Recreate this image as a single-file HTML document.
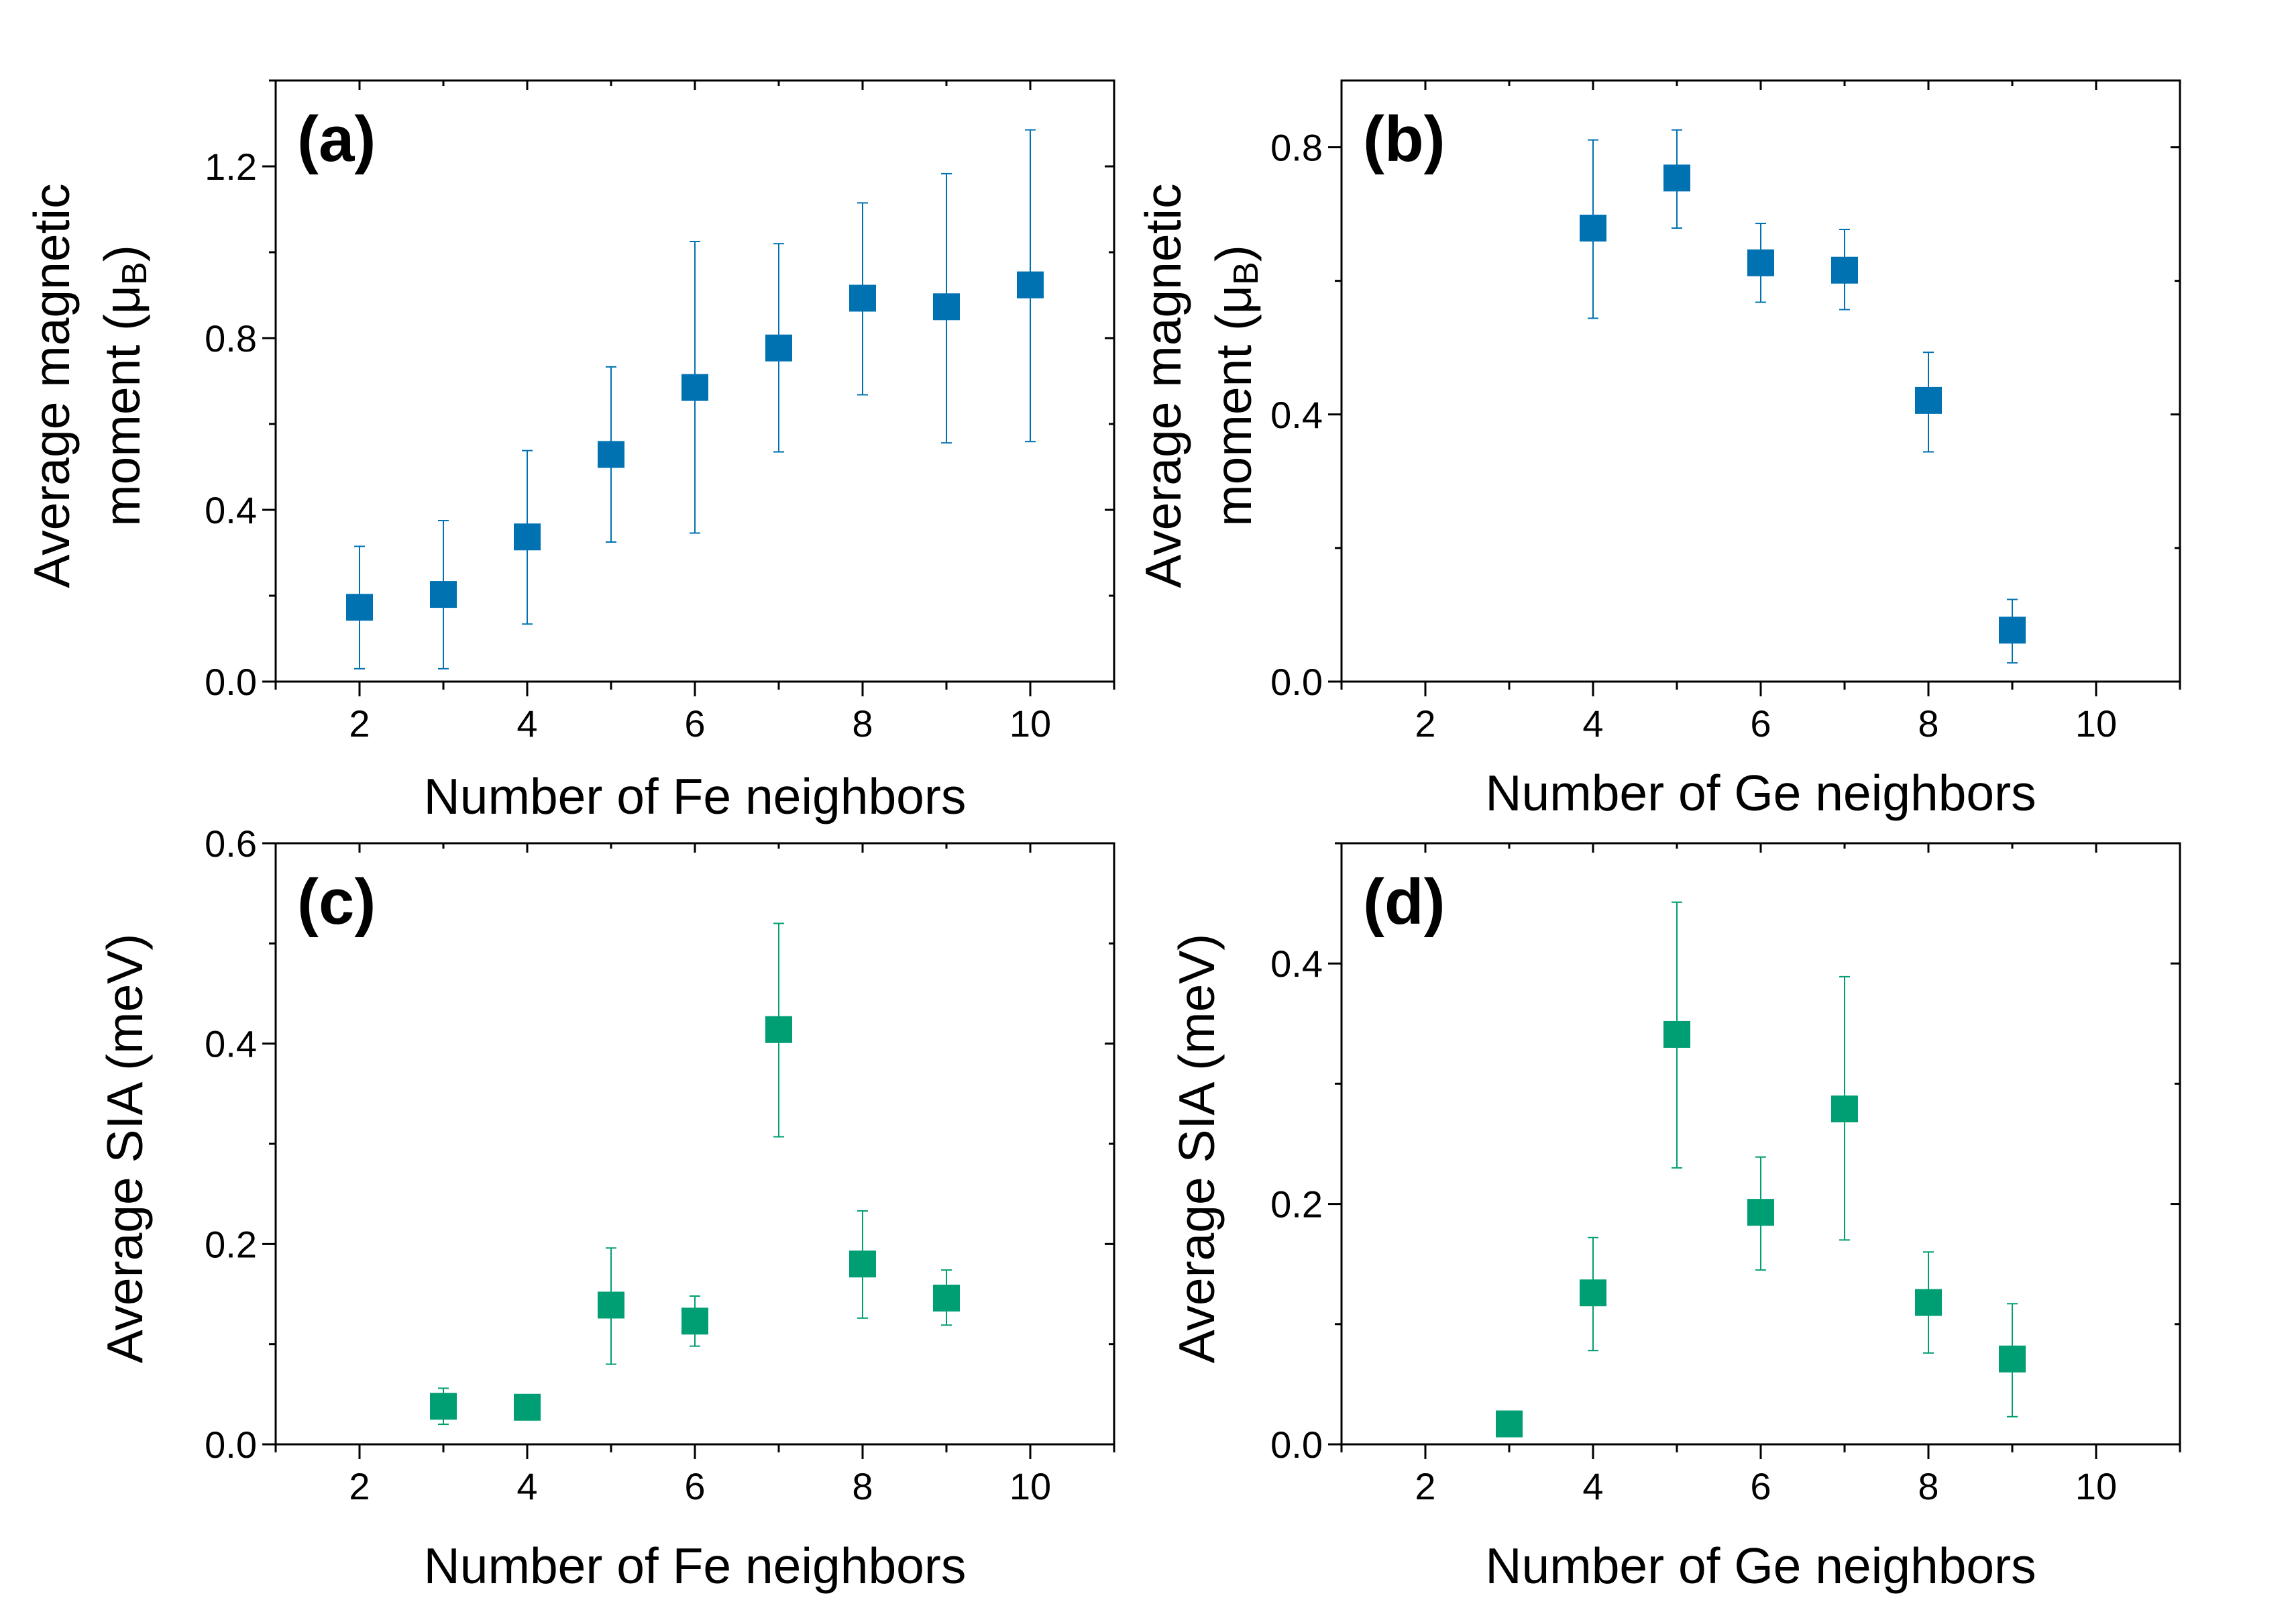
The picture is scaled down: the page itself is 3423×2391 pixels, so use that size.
<!DOCTYPE html>
<html><head><meta charset="utf-8"><style>
html,body{margin:0;padding:0;background:#fff;}
svg{display:block;font-family:"Liberation Sans",Arial,sans-serif;}
</style></head><body>
<svg id="fig" width="3423" height="2391" viewBox="0 0 3423 2391" xmlns="http://www.w3.org/2000/svg">
<rect width="3423" height="2391" fill="#fff"/>
</svg>
<script>
const xCats = [2,3,4,5,6,7,8,9,10];
const aX = [2,3,4,5,6,7,8,9,10];
const aVal = [0.173,0.203,0.337,0.529,0.685,0.777,0.893,0.873,0.924];
const aHi = [0.315,0.375,0.538,0.733,1.025,1.02,1.115,1.183,1.285];
const aLo = [0.03,0.03,0.134,0.325,0.346,0.535,0.668,0.556,0.559];
const bX = [4,5,6,7,8,9];
const bVal = [0.679,0.754,0.627,0.616,0.421,0.077];
const bHi = [0.811,0.826,0.686,0.677,0.493,0.123];
const bLo = [0.544,0.679,0.568,0.557,0.344,0.028];
const cX = [3,4,5,6,7,8,9];
const cVal = [0.038,0.037,0.139,0.123,0.414,0.18,0.146];
const cHi = [0.056,0.04,0.196,0.148,0.52,0.233,0.174];
const cLo = [0.02,0.034,0.08,0.098,0.307,0.126,0.119];
const dX = [3,4,5,6,7,8,9];
const dVal = [0.017,0.126,0.341,0.193,0.279,0.118,0.071];
const dHi = [0.02,0.172,0.451,0.239,0.389,0.16,0.117];
const dLo = [0.014,0.078,0.23,0.145,0.17,0.076,0.023];
const xTicks = ["2","4","6","8","10"];
const aYTicks = ["0.0","0.4","0.8","1.2"];
const bYTicks = ["0.0","0.4","0.8"];
const cYTicks = ["0.0","0.2","0.4","0.6"];
const dYTicks = ["0.0","0.2","0.4"];

const NS="http://www.w3.org/2000/svg";
const svg=document.getElementById('fig');
function mk(tag,attrs,parent){const e=document.createElementNS(NS,tag);for(const k in attrs)e.setAttribute(k,attrs[k]);(parent||svg).appendChild(e);return e;}

function panel(o){
  const g=mk('g',{});
  
  
  const L=o.x0,R=o.x0+1250,T=o.y0,B=o.y0+896;
  const sx=v=>L+(v-1)*125;
  const sy=v=>B-(v/o.ymax)*896;
  const fr=mk('rect',{x:L,y:T,width:R-L,height:B-T,fill:'none',stroke:'#000','stroke-width':3},g);
  
  
  for(let v=1;v<=11;v++){
    const major=(v%2===0);
    const x=sx(v);
    mk('line',{x1:x,y1:B,x2:x,y2:B+(major?22:12),stroke:'#000','stroke-width':3},g);
    mk('line',{x1:x,y1:T,x2:x,y2:T+(major?14:8),stroke:'#000','stroke-width':3},g);
  }
  xTicks.forEach(t=>{
    const tx=mk('text',{x:sx(+t),y:B+82,'font-size':56,'text-anchor':'middle'},g);
    tx.textContent=t;
    
    
  });
  const step=o.ystep;
  for(let i=0;i*step/2<=o.ymax+1e-9;i++){
    const v=i*step/2;const y=sy(v);const major=(i%2===0);
    mk('line',{x1:L,y1:y,x2:L-(major?20:10),y2:y,stroke:'#000','stroke-width':3},g);
    mk('line',{x1:R,y1:y,x2:R-(major?14:8),y2:y,stroke:'#000','stroke-width':3},g);
  }
  o.yticks.forEach(t=>{
    const ty=mk('text',{x:L-28,y:sy(+t)+20,'font-size':56,'text-anchor':'end'},g);
    ty.textContent=t;
    
    
  });
  const pl=mk('text',{x:L+32,y:T+120,'font-size':96,'font-weight':'bold'},g);
  pl.textContent=o.label;
  
  
  const xt=mk('text',{x:(L+R)/2,y:o.xtY,'font-size':75,'text-anchor':'middle'},g);
  xt.textContent=o.xtitle;
  
  
  o.ytitle.forEach((line,i)=>{
    const cx=o.ytX[i],cy=T+455;
    const yt=mk('text',{x:cx,y:cy,'font-size':75,'text-anchor':'middle',transform:`rotate(-90 ${cx} ${cy})`,'dominant-baseline':'middle'},g);
    if(line==='MU'){
      yt.innerHTML='moment (μ<tspan font-size="52" dy="16">B</tspan><tspan dy="-16">)</tspan>';
    } else yt.textContent=line;
    
    
  });
  o.xs.forEach((xv,i)=>{
    const x=sx(xv);
    const eb=mk('g',{stroke:o.color,'stroke-width':2},g);
    
    
    mk('line',{x1:x,y1:sy(o.hi[i]),x2:x,y2:sy(o.lo[i])},eb);
    mk('line',{x1:x-8,y1:sy(o.hi[i]),x2:x+8,y2:sy(o.hi[i])},eb);
    mk('line',{x1:x-8,y1:sy(o.lo[i]),x2:x+8,y2:sy(o.lo[i])},eb);
    const m=mk('rect',{x:x-20,y:sy(o.vals[i])-20,width:40,height:40,fill:o.color},g);
    
    
  });
}
const blue='#0072b2',green='#009e73';
panel({name:'panel-a',x0:411,y0:120,ymax:1.4,ystep:0.4,yticks:aYTicks,xs:aX,vals:aVal,hi:aHi,lo:aLo,color:blue,label:'(a)',xtitle:'Number of Fe neighbors',xtY:1213,ytitle:['Average magnetic','MU'],ytX:[83,188]});
panel({name:'panel-b',x0:2000,y0:120,ymax:0.9,ystep:0.4,yticks:bYTicks,xs:bX,vals:bVal,hi:bHi,lo:bLo,color:blue,label:'(b)',xtitle:'Number of Ge neighbors',xtY:1208,ytitle:['Average magnetic','MU'],ytX:[1740,1845]});
panel({name:'panel-c',x0:411,y0:1257,ymax:0.6,ystep:0.2,yticks:cYTicks,xs:cX,vals:cVal,hi:cHi,lo:cLo,color:green,label:'(c)',xtitle:'Number of Fe neighbors',xtY:2360,ytitle:['Average SIA (meV)'],ytX:[192]});
panel({name:'panel-d',x0:2000,y0:1257,ymax:0.5,ystep:0.2,yticks:dYTicks,xs:dX,vals:dVal,hi:dHi,lo:dLo,color:green,label:'(d)',xtitle:'Number of Ge neighbors',xtY:2360,ytitle:['Average SIA (meV)'],ytX:[1790]});
</script>
</body></html>
